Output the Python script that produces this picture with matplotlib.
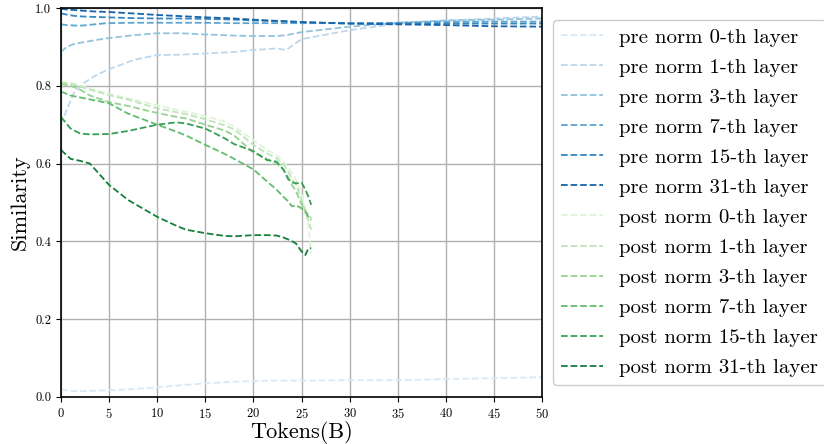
import matplotlib
matplotlib.use("Agg")
import matplotlib.pyplot as plt
import numpy as np

plt.rcParams['font.family'] = 'serif'
plt.rcParams['font.serif'] = ['cmr10']
plt.rcParams['mathtext.fontset'] = 'cm'
plt.rcParams['axes.formatter.use_mathtext'] = True

layers = [0, 1, 3, 7, 15, 31]

# pre norm curves (tokens in B, similarity)
pre_x = [0, 0.6, 1.3, 2.3, 3.5, 4.75, 7.5, 10, 12.5, 15, 18, 20, 22.4, 23.4, 25, 30, 35, 40, 45, 50]
pre_0 = [0.020, 0.017, 0.015, 0.015, 0.016, 0.017, 0.020, 0.025, 0.030, 0.035, 0.039, 0.041, 0.042,
         0.042, 0.042, 0.043, 0.043, 0.046, 0.048, 0.051]
pre_1 = [0.700, 0.738, 0.780, 0.806, 0.825, 0.840, 0.866, 0.879, 0.880, 0.883, 0.887, 0.892, 0.896,
         0.892, 0.920, 0.943, 0.960, 0.968, 0.973, 0.978]
pre_3 = [0.887, 0.900, 0.907, 0.912, 0.917, 0.922, 0.930, 0.935, 0.935, 0.932, 0.929, 0.928, 0.928,
         0.930, 0.938, 0.952, 0.962, 0.968, 0.970, 0.973]
pre_7 = [0.958, 0.956, 0.955, 0.955, 0.958, 0.961, 0.962, 0.962, 0.962, 0.962, 0.961, 0.961, 0.961,
         0.961, 0.961, 0.961, 0.962, 0.964, 0.965, 0.965]
pre_15 = [0.986, 0.983, 0.980, 0.978, 0.977, 0.976, 0.974, 0.973, 0.973, 0.972, 0.970, 0.968, 0.966,
          0.965, 0.963, 0.960, 0.960, 0.960, 0.960, 0.960]
pre_31 = [0.998, 0.996, 0.995, 0.993, 0.991, 0.990, 0.986, 0.982, 0.979, 0.976, 0.973, 0.970, 0.967,
          0.966, 0.964, 0.960, 0.958, 0.956, 0.953, 0.952]

# post norm curves
post_x = [0, 1, 2, 3, 5, 7, 10, 12, 13, 15, 17, 18, 20, 21.4, 22.4, 23.1, 23.6, 24, 24.4, 25, 25.4,
          25.7, 26]
post_0 = [0.810, 0.808, 0.800, 0.793, 0.780, 0.768, 0.750, 0.738, 0.733, 0.722, 0.708, 0.695, 0.660,
          0.635, 0.622, 0.605, 0.590, 0.575, 0.560, 0.520, 0.480, 0.440, 0.370]
post_1 = [0.808, 0.805, 0.798, 0.790, 0.776, 0.764, 0.742, 0.732, 0.727, 0.714, 0.698, 0.688, 0.648,
          0.626, 0.614, 0.598, 0.580, 0.560, 0.548, 0.505, 0.478, 0.455, 0.430]
post_3 = [0.805, 0.800, 0.790, 0.775, 0.758, 0.748, 0.730, 0.720, 0.716, 0.700, 0.685, 0.672, 0.628,
          0.612, 0.600, 0.585, 0.565, 0.545, 0.530, 0.495, 0.478, 0.468, 0.460]
post_7 = [0.785, 0.775, 0.770, 0.765, 0.755, 0.728, 0.700, 0.682, 0.672, 0.648, 0.625, 0.612, 0.585,
          0.554, 0.533, 0.515, 0.503, 0.490, 0.493, 0.485, 0.475, 0.464, 0.455]
post_15 = [0.720, 0.690, 0.677, 0.675, 0.676, 0.684, 0.700, 0.706, 0.703, 0.690, 0.665, 0.650, 0.632,
           0.609, 0.605, 0.585, 0.560, 0.552, 0.549, 0.551, 0.533, 0.515, 0.494]
post_31 = [0.635, 0.612, 0.607, 0.600, 0.545, 0.506, 0.463, 0.440, 0.430, 0.421, 0.414, 0.413, 0.416,
           0.416, 0.415, 0.410, 0.405, 0.400, 0.395, 0.374, 0.365, 0.382, 0.382]

pre = [pre_0, pre_1, pre_3, pre_7, pre_15, pre_31]
post = [post_0, post_1, post_3, post_7, post_15, post_31]

blues = plt.cm.Blues(np.linspace(0.15, 0.8, 6))
greens = plt.cm.Greens(np.linspace(0.15, 0.8, 6))

fig = plt.figure(figsize=(8.24, 4.44), dpi=100)
ax = fig.add_axes([0.074, 0.106, 0.584, 0.876])

for i, l in enumerate(layers):
    ax.plot(pre_x, pre[i], color=blues[i], linestyle='--', linewidth=1.3, label='pre norm %d-th layer' % l)
for i, l in enumerate(layers):
    ax.plot(post_x, post[i], color=greens[i], linestyle='--', linewidth=1.3, label='post norm %d-th layer' % l)

ax.set_xlim(0, 50)
ax.set_ylim(0, 1)
ax.set_xticks(np.arange(0, 51, 5))
ax.set_yticks(np.arange(0, 1.01, 0.2))
ax.set_yticklabels(['0.0', '0.2', '0.4', '0.6', '0.8', '1.0'])
ax.tick_params(labelsize=9)
ax.grid(True, color='#b0b0b0', linewidth=1.0)
for s in ax.spines.values():
    s.set_linewidth(1.2)
ax.set_xlabel('Tokens(B)', fontsize=16, labelpad=0)
ax.set_ylabel('Similarity', fontsize=16, labelpad=4)

ax.legend(loc='center left', bbox_to_anchor=(1.0, 0.5), fontsize=15, handlelength=2.0,
          labelspacing=0.55, framealpha=1.0)

plt.savefig('out.png', dpi=100)
